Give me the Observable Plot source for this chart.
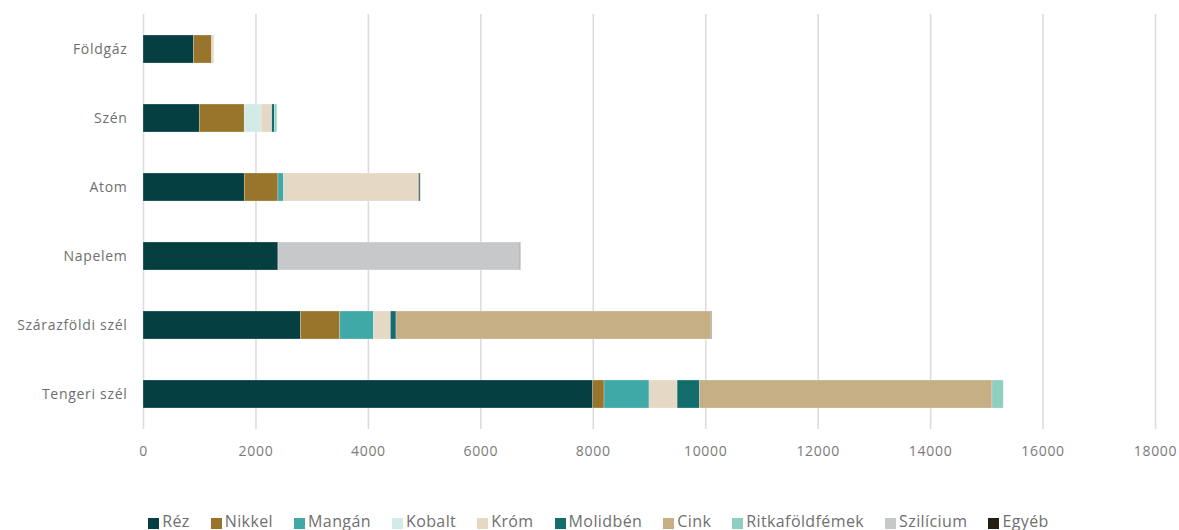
<!DOCTYPE html>
<html>
<head>
<meta charset="utf-8">
<script src="https://cdn.jsdelivr.net/npm/d3@7"></script>
<script src="https://cdn.jsdelivr.net/npm/@observablehq/plot@0.6"></script>
<style>
  html, body { margin: 0; padding: 0; background: #fff; }
  body { width: 1179px; height: 530px; overflow: hidden; font-family: "Open Sans", sans-serif; }
  #legend { display: flex; justify-content: center; align-items: center; gap: 0 21px; margin-top: 40px; padding-left: 18px; font-size: 16px; letter-spacing: 0.4px; color: #6f6f6f; }
  .item { display: flex; align-items: center; }
  .sw { width: 11px; height: 11px; margin-right: 3px; margin-top: 4px; }
</style>
</head>
<body>
<div id="chart"></div>
<div id="legend"></div>
<script>
const categories = ["Földgáz", "Szén", "Atom", "Napelem", "Szárazföldi szél", "Tengeri szél"];
const series = ["Réz", "Nikkel", "Mangán", "Kobalt", "Króm", "Molidbén", "Cink", "Ritkaföldfémek", "Szilícium", "Egyéb"];
const colors = ["#053f41", "#98752b", "#3fa9a8", "#d3ebe7", "#e5d9c5", "#136e6b", "#c6ae85", "#8ecfc1", "#c7c8ca", "#231f14"];
const xTicks = [0, 2000, 4000, 6000, 8000, 10000, 12000, 14000, 16000, 18000];

const rez            = [900, 1000, 1800, 2400, 2800, 8000];
const nikkel         = [320, 800, 600, 0, 700, 200];
const mangan         = [0, 0, 100, 0, 600, 800];
const kobalt         = [0, 300, 0, 0, 0, 0];
const krom           = [40, 190, 2400, 0, 300, 500];
const molibden       = [0, 45, 12, 0, 100, 400];
const cink           = [0, 0, 0, 0, 5600, 5200];
const ritkafoldfemek = [0, 45, 0, 0, 0, 200];
const szilicium      = [0, 0, 0, 4300, 0, 0];
const egyeb          = [0, 0, 18, 10, 10, 0];

const seriesValues = [rez, nikkel, mangan, kobalt, krom, molibden, cink, ritkafoldfemek, szilicium, egyeb];
const data = [];
series.forEach((s, i) => {
  categories.forEach((c, j) => {
    if (seriesValues[i][j] > 0) data.push({cat: c, series: s, value: seriesValues[i][j]});
  });
});

const chart = Plot.plot({
  width: 1179,
  height: 470,
  marginLeft: 143,
  marginRight: 24,
  marginTop: 14,
  marginBottom: 41,
  style: {fontFamily: "Open Sans, sans-serif", fontSize: "14px", color: "#6f6f6f", background: "#fff", letterSpacing: "0.7px"},
  x: {domain: [0, 18000], ticks: xTicks, tickFormat: d => String(d), tickSize: 0, tickPadding: 17, label: null},
  y: {domain: categories, paddingInner: 0.594, paddingOuter: 0.304, tickSize: 0, tickPadding: 16, label: null},
  color: {domain: series, range: colors},
  marks: [
    Plot.gridX(xTicks, {stroke: "#dcdcdc", strokeOpacity: 1, strokeWidth: 1.6}),
    Plot.barX(data, Plot.stackX({x: "value", y: "cat", fill: "series", stroke: "#ffffff", strokeWidth: 0.5, strokeOpacity: 0.5})),
    Plot.axisX({ticks: xTicks, tickFormat: d => String(d), tickSize: 0, tickPadding: 17, fill: "#7a7a7a", fontSize: 14}),
    Plot.axisY({tickSize: 0, tickPadding: 16, fill: "#6f6f6f"})
  ]
});
document.getElementById("chart").appendChild(chart);

const legend = document.getElementById("legend");
series.forEach((s, i) => {
  const it = document.createElement("div");
  it.className = "item";
  const sw = document.createElement("span");
  sw.className = "sw";
  sw.style.background = colors[i];
  const t = document.createElement("span");
  t.textContent = s;
  it.appendChild(sw);
  it.appendChild(t);
  legend.appendChild(it);
});
</script>
</body>
</html>
